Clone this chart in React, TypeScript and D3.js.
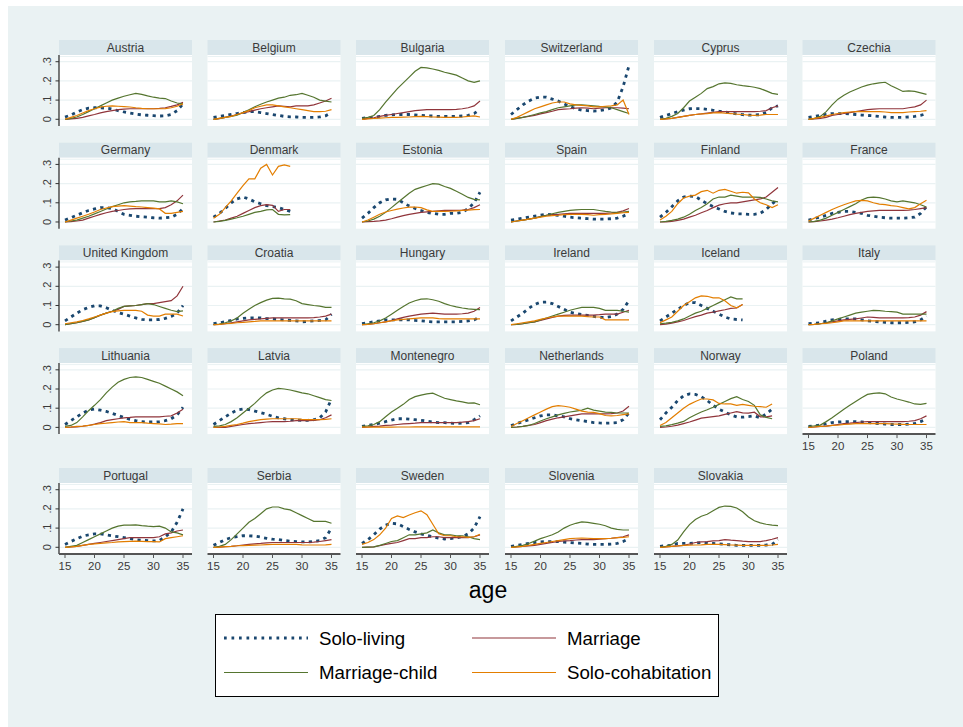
import React from "react";
import * as d3 from "d3";

const ages = [15,16,17,18,19,20,21,22,23,24,25,26,27,28,29,30,31,32,33,34,35];
const xTicks = [15,20,25,30,35];
const yTicks = [0,0.1,0.2,0.3];
const yTickLabels = ["0",".1",".2",".3"];

const countries = [
  "Austria","Belgium","Bulgaria","Switzerland","Cyprus","Czechia",
  "Germany","Denmark","Estonia","Spain","Finland","France",
  "United Kingdom","Croatia","Hungary","Ireland","Iceland","Italy",
  "Lithuania","Latvia","Montenegro","Netherlands","Norway","Poland",
  "Portugal","Serbia","Sweden","Slovenia","Slovakia",
];

const seriesNames = ["Solo-living","Marriage","Marriage-child","Solo-cohabitation"];

type S = (number | null)[];
const N = null;

// Solo-living, by country (same order as countries)
const soloLiving: S[] = [
  [0.012,0.022,0.038,0.05,0.058,0.06,0.06,0.058,0.053,0.045,0.038,0.032,0.027,0.023,0.021,0.019,0.017,0.018,0.025,0.045,0.08],
  [0.01,0.015,0.02,0.025,0.03,0.035,0.04,0.04,0.035,0.03,0.025,0.02,0.015,0.013,0.012,0.01,0.01,0.01,0.012,0.018,0.035],
  [0.005,0.008,0.01,0.015,0.02,0.023,0.025,0.025,0.025,0.023,0.02,0.018,0.017,0.015,0.015,0.015,0.015,0.017,0.02,0.03,0.05],
  [0.025,0.05,0.075,0.095,0.11,0.115,0.115,0.105,0.095,0.08,0.065,0.055,0.048,0.045,0.043,0.045,0.05,0.06,0.09,0.17,0.28],
  [0.01,0.02,0.03,0.04,0.048,0.055,0.056,0.056,0.052,0.047,0.042,0.038,0.033,0.028,0.024,0.022,0.022,0.024,0.035,0.06,0.07],
  [0.01,0.015,0.02,0.025,0.03,0.03,0.03,0.028,0.025,0.022,0.02,0.018,0.015,0.012,0.01,0.01,0.01,0.012,0.015,0.02,0.03],
  [0.01,0.022,0.035,0.048,0.06,0.068,0.075,0.075,0.07,0.055,0.04,0.035,0.03,0.027,0.025,0.022,0.02,0.022,0.025,0.04,0.07],
  [0.025,0.045,0.07,0.1,0.12,0.13,0.12,0.105,0.095,0.085,0.08,0.075,0.065,0.055,N,N,N,N,N,N,N],
  [0.02,0.045,0.075,0.1,0.115,0.12,0.118,0.1,0.083,0.07,0.06,0.05,0.045,0.04,0.04,0.045,0.045,0.05,0.07,0.1,0.155],
  [0.01,0.015,0.02,0.025,0.03,0.035,0.04,0.038,0.035,0.03,0.025,0.022,0.02,0.017,0.015,0.015,0.015,0.017,0.02,0.03,0.045],
  [0.025,0.05,0.08,0.11,0.13,0.135,0.133,0.113,0.095,0.08,0.068,0.055,0.047,0.043,0.042,0.04,0.04,0.045,0.065,0.095,0.12],
  [0.01,0.018,0.025,0.035,0.045,0.05,0.055,0.055,0.05,0.045,0.035,0.03,0.025,0.022,0.02,0.02,0.02,0.022,0.025,0.045,0.08],
  [0.02,0.04,0.06,0.078,0.09,0.098,0.098,0.088,0.075,0.063,0.055,0.045,0.035,0.028,0.025,0.025,0.027,0.033,0.043,0.06,0.1],
  [0.005,0.01,0.015,0.022,0.03,0.033,0.035,0.035,0.035,0.032,0.03,0.027,0.025,0.022,0.02,0.015,0.017,0.02,0.022,0.025,0.055],
  [0.005,0.01,0.015,0.02,0.025,0.025,0.025,0.025,0.025,0.022,0.02,0.017,0.015,0.015,0.015,0.015,0.015,0.017,0.02,0.025,0.04],
  [0.02,0.04,0.06,0.085,0.105,0.117,0.118,0.11,0.095,0.08,0.065,0.058,0.053,0.048,0.043,0.038,0.037,0.042,0.055,0.08,0.125],
  [0.02,0.04,0.06,0.08,0.1,0.115,0.115,0.1,0.085,0.07,0.055,0.04,0.03,0.027,0.025,N,N,N,N,N,N],
  [0.005,0.008,0.01,0.018,0.025,0.028,0.03,0.03,0.03,0.025,0.02,0.017,0.015,0.012,0.01,0.01,0.01,0.012,0.015,0.025,0.045],
  [0.015,0.035,0.055,0.075,0.09,0.095,0.09,0.083,0.073,0.062,0.052,0.042,0.035,0.03,0.028,0.028,0.03,0.035,0.045,0.065,0.105],
  [0.015,0.035,0.055,0.075,0.09,0.095,0.093,0.085,0.077,0.068,0.058,0.05,0.045,0.04,0.038,0.037,0.037,0.04,0.05,0.08,0.148],
  [0.005,0.01,0.015,0.022,0.03,0.038,0.045,0.045,0.043,0.04,0.037,0.033,0.028,0.025,0.025,0.022,0.02,0.022,0.025,0.04,0.06],
  [0.01,0.02,0.03,0.04,0.05,0.06,0.065,0.065,0.06,0.055,0.045,0.04,0.035,0.03,0.025,0.023,0.022,0.023,0.025,0.04,0.075],
  [0.04,0.075,0.105,0.14,0.165,0.175,0.172,0.16,0.14,0.115,0.095,0.08,0.065,0.055,0.053,0.056,0.06,0.05,0.07,0.095,N],
  [0.005,0.008,0.012,0.018,0.025,0.028,0.03,0.03,0.03,0.028,0.025,0.022,0.02,0.017,0.015,0.015,0.015,0.017,0.02,0.03,0.045],
  [0.015,0.03,0.045,0.058,0.065,0.07,0.07,0.065,0.06,0.055,0.05,0.045,0.04,0.037,0.035,0.033,0.035,0.055,0.08,0.13,0.2],
  [0.01,0.025,0.04,0.05,0.055,0.06,0.06,0.058,0.053,0.047,0.042,0.04,0.035,0.032,0.03,0.028,0.028,0.03,0.035,0.05,0.1],
  [0.02,0.04,0.065,0.095,0.115,0.125,0.122,0.108,0.093,0.08,0.07,0.062,0.055,0.048,0.043,0.045,0.05,0.055,0.07,0.1,0.16],
  [0.005,0.01,0.015,0.02,0.025,0.028,0.03,0.03,0.03,0.027,0.025,0.022,0.02,0.017,0.015,0.015,0.015,0.017,0.02,0.03,0.045],
  [0.005,0.008,0.01,0.02,0.02,0.02,0.022,0.025,0.022,0.02,0.018,0.015,0.013,0.01,0.01,0.01,0.01,0.01,0.012,0.015,0.04],
];

// Marriage
const marriage: S[] = [
  [0,0.002,0.005,0.01,0.018,0.025,0.033,0.04,0.045,0.05,0.053,0.055,0.055,0.055,0.055,0.055,0.057,0.06,0.067,0.075,0.088],
  [0,0.003,0.01,0.017,0.025,0.033,0.04,0.048,0.055,0.06,0.065,0.07,0.068,0.065,0.07,0.07,0.07,0.075,0.085,0.095,0.11],
  [0,0.005,0.008,0.015,0.02,0.025,0.03,0.035,0.04,0.045,0.048,0.05,0.05,0.05,0.05,0.05,0.052,0.055,0.06,0.07,0.095],
  [0,0.005,0.01,0.015,0.02,0.028,0.035,0.042,0.05,0.053,0.055,0.058,0.06,0.058,0.055,0.058,0.06,0.06,0.06,0.058,0.055],
  [0,0.002,0.005,0.01,0.015,0.02,0.025,0.028,0.032,0.036,0.04,0.04,0.04,0.04,0.04,0.04,0.04,0.042,0.045,0.06,0.07],
  [0,0.002,0.005,0.01,0.02,0.025,0.03,0.035,0.04,0.045,0.05,0.053,0.055,0.055,0.055,0.055,0.055,0.06,0.065,0.075,0.1],
  [0,0.002,0.005,0.01,0.02,0.03,0.04,0.048,0.055,0.06,0.065,0.068,0.07,0.07,0.07,0.07,0.07,0.075,0.09,0.11,0.14],
  [0,0.005,0.01,0.02,0.03,0.045,0.06,0.075,0.085,0.09,0.087,0.055,0.065,0.065,N,N,N,N,N,N,N],
  [0,0.002,0.003,0.006,0.01,0.017,0.025,0.033,0.04,0.045,0.05,0.053,0.055,0.058,0.06,0.06,0.06,0.062,0.065,0.075,0.09],
  [0,0.005,0.01,0.015,0.02,0.028,0.035,0.038,0.04,0.043,0.045,0.045,0.045,0.045,0.045,0.045,0.045,0.047,0.05,0.058,0.07],
  [0,0.001,0.003,0.008,0.015,0.025,0.035,0.048,0.06,0.075,0.088,0.095,0.1,0.1,0.105,0.11,0.115,0.12,0.13,0.155,0.18],
  [0,0.002,0.005,0.01,0.015,0.022,0.03,0.038,0.045,0.05,0.055,0.058,0.06,0.06,0.06,0.06,0.06,0.062,0.065,0.07,0.075],
  [0,0.005,0.01,0.017,0.025,0.037,0.05,0.06,0.07,0.08,0.095,0.098,0.1,0.105,0.11,0.11,0.115,0.12,0.125,0.15,0.2],
  [0,0.002,0.005,0.01,0.015,0.02,0.025,0.028,0.03,0.033,0.035,0.035,0.035,0.035,0.035,0.035,0.035,0.037,0.04,0.045,0.055],
  [0,0.002,0.005,0.01,0.015,0.022,0.03,0.038,0.045,0.05,0.055,0.058,0.06,0.058,0.055,0.055,0.055,0.057,0.06,0.07,0.09],
  [0,0.002,0.005,0.01,0.015,0.022,0.03,0.038,0.045,0.048,0.05,0.05,0.05,0.05,0.05,0.052,0.055,0.055,0.055,0.065,0.075],
  [0,0.003,0.008,0.015,0.022,0.032,0.042,0.05,0.06,0.065,0.072,0.078,0.085,0.087,0.105,N,N,N,N,N,N],
  [0,0.002,0.005,0.01,0.015,0.02,0.025,0.028,0.03,0.035,0.04,0.038,0.035,0.035,0.035,0.035,0.035,0.037,0.04,0.05,0.068],
  [0,0.001,0.003,0.006,0.01,0.017,0.025,0.035,0.04,0.045,0.05,0.052,0.055,0.055,0.055,0.055,0.055,0.058,0.06,0.075,0.095],
  [0,0,0,0.005,0.01,0.015,0.02,0.022,0.025,0.028,0.03,0.03,0.03,0.032,0.035,0.035,0.035,0.037,0.04,0.05,0.065],
  [0,0.002,0.005,0.007,0.01,0.012,0.015,0.018,0.02,0.022,0.025,0.025,0.025,0.025,0.025,0.025,0.025,0.027,0.03,0.035,0.045],
  [0,0.002,0.005,0.01,0.015,0.025,0.035,0.043,0.05,0.055,0.06,0.065,0.07,0.07,0.07,0.07,0.07,0.072,0.075,0.085,0.11],
  [0,0.002,0.006,0.012,0.02,0.028,0.038,0.048,0.052,0.056,0.06,0.068,0.075,0.082,0.076,0.074,0.079,0.055,0.055,0.06,N],
  [0,0.002,0.005,0.007,0.01,0.015,0.02,0.022,0.025,0.028,0.03,0.03,0.03,0.03,0.03,0.03,0.03,0.032,0.035,0.045,0.06],
  [0,0.002,0.005,0.01,0.015,0.02,0.025,0.03,0.035,0.04,0.045,0.05,0.05,0.05,0.05,0.05,0.055,0.07,0.075,0.085,0.09],
  [0,0.001,0.003,0.005,0.008,0.012,0.015,0.018,0.02,0.023,0.025,0.025,0.025,0.025,0.025,0.025,0.025,0.027,0.03,0.035,0.04],
  [0,0.001,0.002,0.008,0.015,0.02,0.025,0.035,0.045,0.045,0.05,0.05,0.055,0.055,0.05,0.05,0.05,0.05,0.05,0.055,0.065],
  [0,0.002,0.005,0.007,0.01,0.015,0.02,0.025,0.03,0.033,0.035,0.038,0.04,0.04,0.04,0.042,0.045,0.047,0.05,0.055,0.065],
  [0,0.002,0.005,0.007,0.01,0.017,0.025,0.028,0.03,0.033,0.035,0.04,0.037,0.035,0.032,0.03,0.03,0.03,0.035,0.042,0.05],
];

// Marriage-child
const marriageChild: S[] = [
  [0,0.005,0.012,0.025,0.04,0.055,0.07,0.085,0.1,0.11,0.12,0.128,0.135,0.13,0.122,0.115,0.11,0.108,0.095,0.085,0.08],
  [0,0.005,0.01,0.015,0.022,0.035,0.05,0.065,0.078,0.09,0.1,0.11,0.115,0.125,0.128,0.135,0.125,0.115,0.1,0.095,0.09],
  [0.005,0.01,0.02,0.05,0.09,0.125,0.16,0.19,0.22,0.25,0.27,0.268,0.262,0.255,0.245,0.238,0.23,0.215,0.2,0.192,0.2],
  [0,0.005,0.01,0.017,0.025,0.033,0.04,0.05,0.06,0.065,0.07,0.075,0.075,0.073,0.07,0.067,0.065,0.06,0.05,0.04,0.03],
  [0,0.005,0.015,0.03,0.06,0.095,0.115,0.135,0.16,0.17,0.185,0.19,0.187,0.18,0.175,0.172,0.167,0.16,0.148,0.135,0.13],
  [0,0.005,0.015,0.04,0.075,0.105,0.125,0.142,0.155,0.168,0.178,0.185,0.19,0.193,0.175,0.16,0.145,0.148,0.145,0.138,0.13],
  [0,0.005,0.01,0.02,0.03,0.042,0.055,0.068,0.08,0.09,0.1,0.105,0.107,0.11,0.11,0.11,0.105,0.105,0.11,0.105,0.095],
  [0,0.003,0.008,0.015,0.022,0.03,0.04,0.05,0.055,0.063,0.065,0.04,0.037,0.038,N,N,N,N,N,N,N],
  [0,0.005,0.015,0.03,0.05,0.075,0.1,0.125,0.15,0.17,0.18,0.19,0.2,0.197,0.185,0.175,0.16,0.145,0.128,0.118,0.115],
  [0,0.005,0.01,0.015,0.02,0.028,0.035,0.043,0.05,0.055,0.06,0.063,0.065,0.065,0.065,0.06,0.055,0.052,0.05,0.052,0.055],
  [0,0.003,0.008,0.015,0.025,0.04,0.06,0.075,0.095,0.12,0.13,0.13,0.14,0.135,0.13,0.13,0.13,0.128,0.12,0.11,0.105],
  [0,0.003,0.01,0.02,0.035,0.05,0.065,0.08,0.095,0.115,0.127,0.13,0.127,0.12,0.11,0.105,0.11,0.105,0.1,0.09,0.078],
  [0,0.005,0.01,0.017,0.025,0.037,0.05,0.06,0.07,0.085,0.095,0.098,0.1,0.105,0.11,0.105,0.095,0.085,0.075,0.068,0.072],
  [0,0.003,0.01,0.02,0.035,0.06,0.08,0.1,0.115,0.128,0.137,0.138,0.135,0.133,0.125,0.11,0.105,0.1,0.097,0.09,0.09],
  [0,0.005,0.01,0.02,0.035,0.055,0.075,0.095,0.113,0.125,0.133,0.135,0.13,0.122,0.11,0.1,0.093,0.087,0.082,0.08,0.078],
  [0,0.002,0.005,0.01,0.015,0.025,0.035,0.045,0.055,0.065,0.075,0.083,0.09,0.09,0.09,0.085,0.075,0.075,0.075,0.07,0.065],
  [0.005,0.008,0.012,0.02,0.03,0.045,0.06,0.07,0.085,0.1,0.115,0.13,0.145,0.135,0.135,N,N,N,N,N,N],
  [0,0.002,0.005,0.01,0.02,0.03,0.04,0.05,0.06,0.065,0.07,0.075,0.073,0.07,0.068,0.065,0.055,0.055,0.055,0.055,0.055],
  [0.005,0.01,0.025,0.055,0.087,0.115,0.145,0.18,0.21,0.235,0.25,0.26,0.263,0.26,0.25,0.24,0.23,0.215,0.2,0.185,0.165],
  [0.005,0.008,0.015,0.03,0.05,0.075,0.1,0.125,0.155,0.18,0.195,0.203,0.2,0.195,0.188,0.18,0.175,0.165,0.155,0.145,0.14],
  [0.005,0.008,0.015,0.03,0.055,0.08,0.1,0.12,0.145,0.16,0.168,0.175,0.178,0.165,0.152,0.145,0.138,0.133,0.126,0.128,0.118],
  [0,0.002,0.005,0.01,0.02,0.033,0.045,0.055,0.065,0.073,0.08,0.085,0.09,0.1,0.09,0.085,0.08,0.078,0.075,0.075,0.075],
  [0.005,0.008,0.014,0.022,0.031,0.05,0.066,0.08,0.092,0.105,0.12,0.135,0.15,0.16,0.145,0.135,0.115,0.065,0.052,0.045,N],
  [0.005,0.008,0.012,0.03,0.05,0.072,0.095,0.115,0.135,0.155,0.172,0.177,0.18,0.175,0.158,0.148,0.14,0.132,0.122,0.12,0.125],
  [0,0.005,0.01,0.025,0.04,0.055,0.07,0.085,0.1,0.11,0.115,0.115,0.117,0.113,0.11,0.108,0.11,0.1,0.08,0.075,0.065],
  [0,0.005,0.015,0.04,0.07,0.1,0.13,0.15,0.175,0.2,0.21,0.21,0.2,0.195,0.18,0.165,0.15,0.135,0.135,0.135,0.125],
  [0,0.001,0.002,0.01,0.02,0.03,0.035,0.05,0.065,0.065,0.07,0.075,0.09,0.075,0.065,0.065,0.06,0.06,0.055,0.045,0.04],
  [0,0.005,0.01,0.02,0.032,0.045,0.055,0.065,0.08,0.1,0.115,0.125,0.132,0.13,0.125,0.12,0.112,0.1,0.093,0.09,0.09],
  [0,0.005,0.015,0.038,0.08,0.118,0.145,0.162,0.172,0.19,0.208,0.215,0.213,0.205,0.185,0.158,0.138,0.127,0.12,0.115,0.113],
];

// Solo-cohabitation
const soloCohabitation: S[] = [
  [0,0.01,0.02,0.033,0.045,0.055,0.063,0.068,0.07,0.068,0.066,0.064,0.06,0.057,0.055,0.055,0.055,0.056,0.06,0.068,0.08],
  [0,0.005,0.01,0.015,0.025,0.035,0.045,0.06,0.068,0.075,0.075,0.07,0.065,0.06,0.055,0.05,0.045,0.04,0.04,0.042,0.05],
  [0,0.002,0.004,0.006,0.008,0.01,0.01,0.011,0.012,0.014,0.015,0.014,0.012,0.011,0.01,0.01,0.01,0.012,0.015,0.018,0.012],
  [0,0.01,0.025,0.04,0.055,0.065,0.075,0.085,0.09,0.09,0.08,0.075,0.072,0.07,0.065,0.065,0.068,0.07,0.075,0.1,0.025],
  [0,0.002,0.005,0.01,0.015,0.02,0.025,0.028,0.03,0.033,0.035,0.032,0.03,0.027,0.025,0.022,0.02,0.022,0.025,0.025,0.025],
  [0,0.005,0.01,0.018,0.025,0.03,0.035,0.038,0.04,0.04,0.04,0.04,0.04,0.038,0.035,0.035,0.035,0.038,0.04,0.042,0.045],
  [0,0.01,0.02,0.03,0.04,0.052,0.065,0.073,0.08,0.083,0.085,0.083,0.08,0.078,0.075,0.072,0.068,0.045,0.045,0.05,0.055],
  [0.02,0.04,0.075,0.11,0.15,0.19,0.225,0.225,0.28,0.3,0.245,0.29,0.298,0.29,N,N,N,N,N,N,N],
  [0,0.01,0.025,0.04,0.052,0.06,0.067,0.073,0.077,0.078,0.075,0.063,0.055,0.055,0.055,0.056,0.058,0.06,0.062,0.064,0.065],
  [0,0.005,0.01,0.015,0.02,0.025,0.03,0.033,0.035,0.038,0.04,0.04,0.04,0.038,0.035,0.038,0.04,0.042,0.045,0.048,0.05],
  [0.01,0.03,0.055,0.095,0.125,0.135,0.14,0.158,0.165,0.15,0.165,0.17,0.16,0.15,0.155,0.152,0.12,0.1,0.09,0.075,0.09],
  [0.005,0.02,0.035,0.05,0.065,0.078,0.09,0.1,0.11,0.113,0.11,0.1,0.093,0.09,0.085,0.082,0.075,0.068,0.075,0.095,0.113],
  [0.005,0.01,0.015,0.022,0.03,0.04,0.05,0.06,0.068,0.072,0.075,0.075,0.075,0.07,0.05,0.045,0.045,0.055,0.055,0.055,0.045],
  [0,0.002,0.005,0.007,0.01,0.012,0.015,0.017,0.02,0.02,0.02,0.02,0.02,0.02,0.02,0.02,0.02,0.02,0.02,0.02,0.02],
  [0,0.002,0.005,0.01,0.015,0.02,0.025,0.028,0.03,0.033,0.035,0.035,0.035,0.032,0.03,0.03,0.03,0.03,0.03,0.03,0.03],
  [0,0.005,0.01,0.015,0.02,0.028,0.035,0.04,0.045,0.045,0.045,0.045,0.045,0.042,0.04,0.04,0.025,0.025,0.025,0.025,0.025],
  [0.01,0.025,0.04,0.07,0.1,0.12,0.14,0.15,0.148,0.14,0.14,0.125,0.1,0.088,0.105,N,N,N,N,N,N],
  [0,0.002,0.005,0.007,0.01,0.015,0.02,0.02,0.02,0.02,0.02,0.02,0.02,0.02,0.02,0.02,0.02,0.02,0.02,0.02,0.02],
  [0,0.002,0.005,0.007,0.01,0.015,0.02,0.022,0.025,0.028,0.03,0.025,0.025,0.025,0.022,0.02,0.018,0.015,0.017,0.02,0.02],
  [0,0.002,0.005,0.01,0.015,0.022,0.03,0.035,0.04,0.043,0.045,0.045,0.045,0.045,0.045,0.042,0.04,0.04,0.04,0.042,0.045],
  [0.001,0.001,0.001,0.001,0.001,0.001,0.002,0.002,0.002,0.003,0.003,0.003,0.003,0.003,0.003,0.003,0.003,0.003,0.003,0.003,0.003],
  [0.005,0.02,0.035,0.05,0.065,0.08,0.095,0.108,0.113,0.11,0.105,0.095,0.085,0.08,0.078,0.072,0.062,0.06,0.062,0.066,0.07],
  [0.01,0.025,0.05,0.075,0.1,0.12,0.135,0.148,0.148,0.143,0.125,0.122,0.122,0.115,0.12,0.115,0.11,0.108,0.105,0.122,N],
  [0,0.002,0.005,0.007,0.01,0.012,0.015,0.017,0.02,0.02,0.02,0.02,0.02,0.02,0.018,0.017,0.016,0.015,0.015,0.015,0.015],
  [0,0.002,0.005,0.01,0.015,0.018,0.02,0.023,0.025,0.028,0.03,0.031,0.032,0.031,0.03,0.029,0.028,0.045,0.05,0.055,0.06],
  [0,0.001,0.003,0.005,0.008,0.009,0.01,0.011,0.012,0.014,0.015,0.015,0.015,0.015,0.015,0.013,0.012,0.012,0.012,0.013,0.015],
  [0.015,0.025,0.04,0.065,0.1,0.15,0.163,0.155,0.168,0.18,0.19,0.17,0.12,0.07,0.06,0.06,0.055,0.055,0.052,0.055,0.068],
  [0,0.002,0.005,0.01,0.015,0.02,0.025,0.03,0.035,0.04,0.045,0.047,0.048,0.047,0.045,0.045,0.045,0.047,0.05,0.052,0.055],
  [0,0.002,0.005,0.007,0.01,0.011,0.012,0.013,0.015,0.015,0.015,0.014,0.012,0.011,0.01,0.01,0.01,0.01,0.01,0.012,0.015],
];

const seriesData = [soloLiving, marriage, marriageChild, soloCohabitation];
const colors = ["#1a476f", "#90353b", "#55752f", "#e37e00"];

const FONT = "'Liberation Sans', Arial, Helvetica, sans-serif";
const colLefts = [59, 207.5, 356, 505, 654, 802.5];
const rowTops = [40, 142.7, 245.4, 348.1, 468];
const PW = 133;
const HEADER = 15;
const PH = 71;

function lineStyle(i: number, legend = false) {
  if (i === 0)
    return {
      stroke: colors[0],
      strokeWidth: legend ? 3.2 : 2.8,
      strokeDasharray: legend ? "2.7,4.8" : "3.2,4.3",
    };
  return { stroke: colors[i], strokeWidth: 1.2 };
}

function Panel({ idx }: { idx: number }) {
  const row = Math.floor(idx / 6);
  const col = idx % 6;
  const left = colLefts[col];
  const top = rowTops[row];
  const pTop = top + HEADER;
  const pBottom = pTop + PH;
  const x = d3.scaleLinear().domain([15, 35]).range([left + 6, left + 124]);
  const y = d3.scaleLinear().domain([-0.035, 0.335]).range([pBottom, pTop]);
  const line = d3
    .line<[number, number | null]>()
    .defined((d) => d[1] != null)
    .x((d) => x(d[0]))
    .y((d) => y(d[1] as number));
  const showX = row === 4 || (row === 3 && col === 5);
  const showY = col === 0;
  return (
    <g>
      <rect x={left} y={top} width={PW} height={HEADER} fill="#d9e6eb" />
      <text x={left + PW / 2} y={top + 11.5} textAnchor="middle" fontSize={12} fill="#3a3a3a" fontFamily={FONT}>
        {countries[idx]}
      </text>
      <rect x={left} y={pTop} width={PW} height={PH} fill="#ffffff" />
      <line x1={left} x2={left + PW} y1={pTop + 1.5} y2={pTop + 1.5} stroke="#eaf2f3" strokeWidth={1} />
      {yTicks.map((t) => (
        <line key={t} x1={left} x2={left + PW} y1={y(t)} y2={y(t)} stroke="#eaf2f3" strokeWidth={1.2} />
      ))}
      {seriesData.map((sd, si) => (
        <path
          key={si}
          d={line(ages.map((a, k) => [a, sd[idx][k]]) as [number, number | null][]) || ""}
          fill="none"
          {...lineStyle(si)}
        />
      ))}
      {showY && (
        <g>
          <line x1={left} x2={left} y1={pTop} y2={pBottom} stroke="#333" strokeWidth={1.3} />
          {yTicks.map((t, k) => (
            <g key={t}>
              <line x1={left - 3.5} x2={left} y1={y(t)} y2={y(t)} stroke="#333" strokeWidth={1} />
              <text
                transform={`translate(${left - 8.5},${y(t)}) rotate(-90)`}
                textAnchor="middle"
                fontSize={11}
                fill="#3a3a3a"
                fontFamily={FONT}
              >
                {yTickLabels[k]}
              </text>
            </g>
          ))}
        </g>
      )}
      {showX && (
        <g>
          <line x1={left} x2={left + PW} y1={pBottom} y2={pBottom} stroke="#555" strokeWidth={2} />
          {xTicks.map((t) => (
            <g key={t}>
              <line x1={x(t)} x2={x(t)} y1={pBottom} y2={pBottom + 4} stroke="#555" strokeWidth={1} />
              <text x={x(t)} y={pBottom + 16} textAnchor="middle" fontSize={11.5} fill="#3a3a3a" fontFamily={FONT}>
                {t}
              </text>
            </g>
          ))}
        </g>
      )}
    </g>
  );
}

export default function App() {
  const legendItems = [
    { name: seriesNames[0], si: 0, lx: 224, ty: 638 },
    { name: seriesNames[1], si: 1, lx: 472, ty: 638 },
    { name: seriesNames[2], si: 2, lx: 224, ty: 672.5 },
    { name: seriesNames[3], si: 3, lx: 472, ty: 672.5 },
  ];
  return (
    <svg
      width={963}
      height={727}
      style={{ position: "absolute", left: 0, top: 0 }}
      fontFamily={FONT}
    >
      <rect x={0} y={0} width={963} height={727} fill="#ffffff" />
      <rect x={8} y={6} width={955} height={721} fill="#eaf2f3" />
      {countries.map((c, i) => (
        <Panel key={c} idx={i} />
      ))}
      <text x={488} y={598} textAnchor="middle" fontSize={23} fill="#000">
        age
      </text>
      <rect x={215.5} y={614.5} width={503} height={82} fill="#ffffff" stroke="#000" strokeWidth={1} />
      {legendItems.map((it) => (
        <g key={it.name}>
          <line x1={it.lx} x2={it.lx + 84} y1={it.ty} y2={it.ty} {...lineStyle(it.si, true)} />
          <text x={it.lx + 95} y={it.ty + 6.5} fontSize={18.7} fill="#000">
            {it.name}
          </text>
        </g>
      ))}
    </svg>
  );
}
